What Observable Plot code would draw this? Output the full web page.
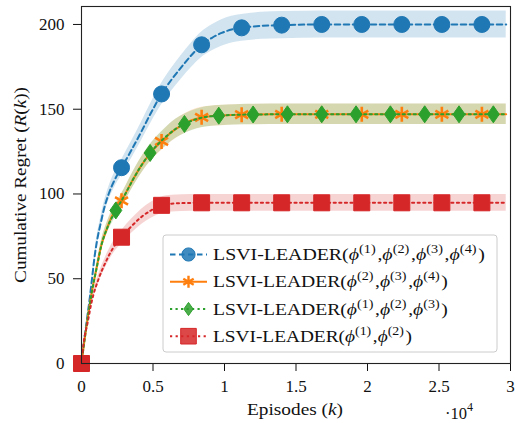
<!DOCTYPE html>
<html><head><meta charset="utf-8">
<script src="https://cdn.jsdelivr.net/npm/d3@7"></script>
<script src="https://cdn.jsdelivr.net/npm/@observablehq/plot@0.6"></script>
<style>body{margin:0;background:#fff}</style>
</head><body><div id="chart"></div>
<script>
// ---- data (episodes, cumulative regret) ----
const blueEpisodes = [0,150,350,600,750,900,1100,1350,1600,1900,2300,2800,3500,4200,4900,5600,6300,7000,7700,8400,9100,9800,10500,11200,12600,14000,16800,19600,22400,25200,28000,29700];
const blueRegret   = [0,11,24,40,51,62,73,83,92,100,108,115.5,126,137,148.5,159,167.5,175,182,188,192,195,197,198,199.2,199.6,200,200,200,200,200,200];
const orangeEpisodes = [0,150,350,700,1050,1400,1750,2100,2800,3500,4200,4900,5600,6300,7000,7700,8400,9800,11200,14000,16800,19600,22400,25200,28000,29700];
const orangeRegret   = [0,10,22,41,56,70,79,86.5,96,107,117,125,131,136.5,140.5,143.5,145.2,146.3,146.8,147,147,147,147,147,147,147];
const greenEpisodes = [0,150,350,700,1050,1400,1800,2400,3000,3600,4200,4800,5400,6000,6600,7200,8400,9600,10800,12000,14400,16800,19200,21600,24000,26400,28800,29700];
const greenRegret   = [0,10,22,41,56,70,80,90.3,99,108.5,117,124.2,129.8,134.5,138.5,141.3,145,146.2,146.7,146.9,147,147,147,147,147,147,147,147];
const redEpisodes = [0,150,450,700,1200,1700,2200,2800,3500,4200,4900,5600,6300,7000,8400,11200,14000,16800,19600,22400,25200,28000,29700];
const redRegret   = [0,12,25,36,50,60,68,74.5,81,86.5,90.5,93.3,94.3,94.6,94.8,94.8,94.8,94.8,94.8,94.8,94.8,94.8,94.8];

const blueMarkEpisodes   = [0,2800,5600,8400,11200,14000,16800,19600,22400,25200,28000];
const orangeMarkEpisodes = [0,2800,5600,8400,11200,14000,16800,19600,22400,25200,28000];
const greenMarkEpisodes  = [0,2400,4800,7200,9600,12000,14400,16800,19200,21600,24000,26400,28800];
const redMarkEpisodes    = [0,2800,5600,8400,11200,14000,16800,19600,22400,25200,28000];

// relative half-width of the shaded band
const bandFraction = [0.04, 0.041, 0.041, 0.052];

const xTicks = [0,5000,10000,15000,20000,25000,30000];
const yTicks = [0,50,100,150,200];

const legendIndices = [[1,2,3,4],[2,3,4],[1,2,3],[1,2]];

// ---- symbols ----
const circleSym = {draw(c, s){const r=Math.sqrt(s/Math.PI); c.moveTo(r,0); c.arc(0,0,r,0,2*Math.PI);}};
const squareSym = {draw(c, s){const r=Math.sqrt(s/Math.PI); c.rect(-r,-r,2*r,2*r);}};
const diamondSym = {draw(c, s){const r=Math.sqrt(s/Math.PI); c.moveTo(0,-r); c.lineTo(0.7*r,0); c.lineTo(0,r); c.lineTo(-0.7*r,0); c.closePath();}};
const asteriskSym = {draw(c, s){const r=Math.sqrt(s/Math.PI); const a=r*Math.cos(Math.PI/6), b=r*Math.sin(Math.PI/6);
  c.moveTo(0,-r); c.lineTo(0,r); c.moveTo(-a,-b); c.lineTo(a,b); c.moveTo(-a,b); c.lineTo(a,-b);}};

const series = [
  {eps: blueEpisodes, vals: blueRegret, marks: blueMarkEpisodes, color: "#1f77b4", dash: "5.5,3.5", sym: circleSym, r: 8, filled: true},
  {eps: orangeEpisodes, vals: orangeRegret, marks: orangeMarkEpisodes, color: "#ff7f0e", dash: null, sym: asteriskSym, r: 7.5, filled: false},
  {eps: greenEpisodes, vals: greenRegret, marks: greenMarkEpisodes, color: "#2ca02c", dash: "2.2,3.3", sym: diamondSym, r: 8.5, filled: true},
  {eps: redEpisodes, vals: redRegret, marks: redMarkEpisodes, color: "#d62728", dash: "2.2,3.4", sym: squareSym, r: 8, filled: true}
];

const marks = [];
series.forEach((s, i) => {
  const rows = s.eps.map((e, j) => ({e, v: s.vals[j], lo: s.vals[j]*(1-bandFraction[i]), hi: s.vals[j]*(1+bandFraction[i])}));
  marks.push(Plot.areaY(rows, {x: "e", y1: "lo", y2: "hi", fill: s.color, fillOpacity: 0.2, curve: "monotone-x"}));
});
series.forEach((s, i) => {
  const rows = s.eps.map((e, j) => ({e, v: s.vals[j]}));
  marks.push(Plot.line(rows, {x: "e", y: "v", stroke: s.color, strokeWidth: 2, strokeDasharray: s.dash || undefined, curve: "monotone-x"}));
  const mrows = s.marks.map(e => ({e, v: s.vals[s.eps.indexOf(e)]}));
  if (s.filled) {
    marks.push(Plot.dot(mrows, {x: "e", y: "v", symbol: s.sym, r: s.r, fill: s.color, stroke: s.color, strokeWidth: 1}));
  } else {
    marks.push(Plot.dot(mrows, {x: "e", y: "v", symbol: s.sym, r: s.r, fill: "none", stroke: s.color, strokeWidth: 2.6}));
  }
});
marks.push(Plot.frame({stroke: "#222", strokeWidth: 1.1}));

const font = "'Liberation Serif', 'DejaVu Serif', serif";
const chart = Plot.plot({
  width: 515, height: 423,
  marginLeft: 81, marginRight: 5, marginTop: 6, marginBottom: 60,
  style: {fontFamily: font, fontSize: "17px", color: "#111", background: "#fff"},
  x: {domain: [0, 30000], ticks: xTicks, tickFormat: d => String(d/1e4), tickSize: 8, tickPadding: 8, label: null},
  y: {domain: [0, 210.6], ticks: yTicks, tickSize: 8, tickPadding: 9, label: null},
  marks
});
document.getElementById("chart").appendChild(chart);

// ---- labels & legend ----
const svg = d3.select(chart);
// stretch a text horizontally (glyph widening, to mimic Computer Modern width)
function fitWidth(sel, x, y, target, rotate) {
  const w = sel.node().getComputedTextLength();
  const k = w > 0 ? target / w : 1;
  sel.attr("x", 0).attr("y", 0)
     .attr("transform", `translate(${x},${y})${rotate ? ` rotate(${rotate})` : ""} scale(${k},1)`);
}

// y label
const yl = svg.append("text").attr("text-anchor", "middle")
  .attr("font-family", font).attr("font-size", 16.5).attr("fill", "#111");
yl.append("tspan").text("Cumulative Regret (");
yl.append("tspan").attr("font-style", "italic").text("R");
yl.append("tspan").text("(");
yl.append("tspan").attr("font-style", "italic").text("k");
yl.append("tspan").text("))");
fitWidth(yl, 26, 185, 196, -90);

// x label
const xl = svg.append("text").attr("text-anchor", "middle")
  .attr("font-family", font).attr("font-size", 16.5).attr("fill", "#111");
xl.append("tspan").text("Episodes (");
xl.append("tspan").attr("font-style", "italic").text("k");
xl.append("tspan").text(")");
fitWidth(xl, 295, 414.5, 96, 0);

// scale factor
const sf = svg.append("text").attr("x", 445).attr("y", 418.5).attr("text-anchor", "start")
  .attr("font-family", font).attr("font-size", 16.5).attr("fill", "#111");
sf.append("tspan").text("·10");
sf.append("tspan").attr("font-size", 12).attr("dy", -8).text("4");

// legend
const lg = svg.append("g");
lg.append("rect").attr("x", 163).attr("y", 235).attr("width", 334).attr("height", 117)
  .attr("rx", 3).attr("fill", "#fff").attr("fill-opacity", 0.85).attr("stroke", "#ccc").attr("stroke-width", 1);
const rowY = [254.5, 281.8, 309, 336.2];
const legendWidths = [272, 235, 235, 199];
series.forEach((s, i) => {
  const y = rowY[i];
  const g = lg.append("g");
  g.append("line").attr("x1", 170).attr("x2", 207).attr("y1", y).attr("y2", y)
    .attr("stroke", s.color).attr("stroke-width", 2).attr("stroke-dasharray", s.dash || null);
  const p = d3.path();
  const lr = i === 1 ? 6 : (i === 3 ? 7.8 : 6.6);
  s.sym.draw(p, Math.PI*lr*lr);
  g.append("path").attr("d", p.toString()).attr("transform", `translate(188.5,${y})`)
    .attr("fill", s.filled ? s.color : "none").attr("fill-opacity", 0.85)
    .attr("stroke", s.color).attr("stroke-width", s.filled ? 1 : 2.4);
  const t = g.append("text").attr("text-anchor", "start")
    .attr("font-family", font).attr("font-size", 16).attr("fill", "#111");
  t.append("tspan").text("LSVI-LEADER(");
  legendIndices[i].forEach((k, j) => {
    if (j > 0) t.append("tspan").text(",");
    t.append("tspan").attr("font-style", "italic").text("ϕ");
    t.append("tspan").attr("font-size", 11.5).attr("dy", -7).text(`(${k})`);
    t.append("tspan").attr("dy", 7).text("\u200A");
  });
  t.append("tspan").text(")");
  fitWidth(t, 213, y + 5.5, legendWidths[i], 0);
});
</script>
</body></html>
